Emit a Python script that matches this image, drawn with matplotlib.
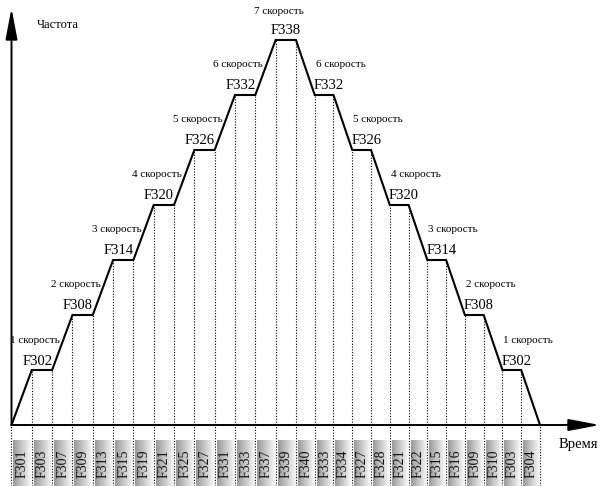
import numpy as np
import matplotlib
matplotlib.use("Agg")
import matplotlib.pyplot as plt

plt.rcParams['font.family'] = ['Liberation Serif', 'DejaVu Serif']

# ── data ──────────────────────────────────────────────────────────
# duration of each of the 27 time slots (accel / plateau / decel)
durations = [1.0, 1.0, 1.0, 1.0, 1.0, 1.0, 1.0, 1.0, 1.0, 1.0, 1.0, 1.0, 1.0, 1.0,
             0.924, 0.924, 0.924, 0.924, 0.924, 0.924, 0.924, 0.924, 0.924,
             0.924, 0.924, 0.924, 0.924]
# frequency level at each slot edge (28 points)
levels = [0, 1, 1, 2, 2, 3, 3, 4, 4, 5, 5, 6, 6, 7, 7,
          6, 6, 5, 5, 4, 4, 3, 3, 2, 2, 1, 1, 0]
slot_labels = ["F301", "F303", "F307", "F309", "F313", "F315", "F319",
               "F321", "F325", "F327", "F331", "F333", "F337", "F339",
               "F340", "F333", "F334", "F327", "F328", "F321", "F322",
               "F315", "F316", "F309", "F310", "F303", "F304"]
up_params = ["F302", "F308", "F314", "F320", "F326", "F332"]
down_params = ["F332", "F326", "F320", "F314", "F308", "F302"]
peak_param = "F338"
speed_word = "скорость"

t = np.concatenate([[0.0], np.cumsum(durations)])

fig = plt.figure(figsize=(6.07, 4.86), dpi=100)
ax = fig.add_axes([0, 0, 1, 1])
ax.set_axis_off()

XL = (-0.566, 29.31)
YL = (-1.109, 7.727)
PX_X = (XL[1] - XL[0]) / 607.0   # data units per pixel
PX_Y = (YL[1] - YL[0]) / 486.0
PT = 72 / 100.0                  # points per pixel

# ── speed profile + dotted slot lines ─────────────────────────────
ax.plot(t, levels, color='black', lw=1.5, zorder=4, solid_joinstyle='miter')
ax.vlines(t, YL[0], levels, colors='black', linestyles=(0, (1, 1.5)),
          lw=0.8, zorder=3)

# ── axes arrows ───────────────────────────────────────────────────
arrow = dict(arrowstyle='-|>,head_length=1.9,head_width=0.36',
             color='black', lw=1.4, shrinkA=0, shrinkB=0, mutation_scale=10)
ax.annotate('', xy=(0, 7.58), xytext=(0, 0), arrowprops=arrow, zorder=5)
ax.annotate('', xy=(28.96, 0), xytext=(0, 0), arrowprops=arrow, zorder=5)
ax.text(1.25, 7.27, "Частота", fontsize=9, ha='left', va='center')
ax.text(26.95, -0.36, "Время", fontsize=10.5, ha='left', va='center')

# ── slot parameter boxes at the bottom ────────────────────────────
grad = np.linspace(0.6, 0.97, 40)[None, :]
box_top = -0.29
for i, lab in enumerate(slot_labels):
    x0 = t[i] + 2 * PX_X
    x1 = t[i + 1] - 1 * PX_X
    ax.imshow(grad, cmap='gray', vmin=0, vmax=1, aspect='auto',
              extent=(x0, x1, YL[0], box_top), zorder=2,
              interpolation='bilinear')
    ax.text((t[i] + t[i + 1]) / 2 + 0.5 * PX_X, -0.71, lab, rotation=90,
            fontsize=10, ha='center', va='center', color='#111111', zorder=4)

# ── plateau labels ────────────────────────────────────────────────
for k, lab in enumerate(up_params):
    xr = t[2 * k + 2]
    lvl = levels[2 * k + 1]
    ax.annotate(lab, (xr, lvl), xytext=(0, 9 * PT), textcoords='offset points',
                fontsize=10.5, ha='right', va='center')
    ax.annotate(f"{k + 1} {speed_word}", (xr, lvl), xytext=(8 * PT, 30 * PT),
                textcoords='offset points', fontsize=8, ha='right', va='center')

for k, lab in enumerate(down_params):
    xl = t[15 + 2 * k]
    lvl = levels[15 + 2 * k]
    ax.annotate(lab, (xl, lvl), xytext=(-1 * PT, 9 * PT),
                textcoords='offset points', fontsize=10.5, ha='left', va='center')
    ax.annotate(f"{6 - k} {speed_word}", (xl, lvl), xytext=(1 * PT, 30 * PT),
                textcoords='offset points', fontsize=8, ha='left', va='center')

xc = (t[13] + t[14]) / 2
ax.annotate(peak_param, (xc, 7), xytext=(0, 9 * PT), textcoords='offset points',
            fontsize=10.5, ha='center', va='center')
ax.annotate(f"7 {speed_word}", (xc, 7), xytext=(-7 * PT, 28 * PT),
            textcoords='offset points', fontsize=8, ha='center', va='center')

ax.set_xlim(*XL)
ax.set_ylim(*YL)
fig.savefig("out.png", dpi=100)
